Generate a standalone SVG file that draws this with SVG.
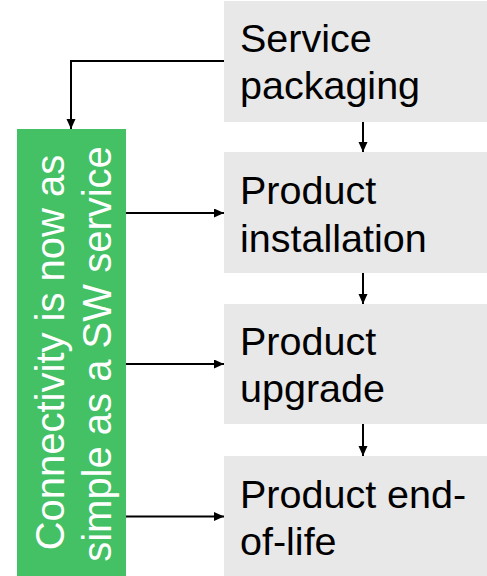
<svg xmlns="http://www.w3.org/2000/svg" width="487" height="576" viewBox="0 0 487 576">
<defs>
<style>
.box{fill:#e8e8e8}
.t{font-family:"Liberation Sans",Arial,sans-serif;font-size:39.5px;fill:#000}
.w{font-family:"Liberation Sans",Arial,sans-serif;font-size:40px;fill:#fff;text-anchor:middle}
.c{fill:none;stroke:#000;stroke-width:2}
</style>
<marker id="ah" markerUnits="userSpaceOnUse" markerWidth="11" markerHeight="10" refX="10" refY="4.5" orient="auto">
<path d="M0,0 L10,4.5 L0,9 z" fill="#000"/>
</marker>
</defs>
<g id="service-packaging">
<rect class="box" x="224" y="1" width="263" height="121"/>
<text class="t" x="240" y="52">Service</text>
<text class="t" x="240" y="99">packaging</text>
</g>
<g id="product-installation">
<rect class="box" x="224" y="152" width="263" height="121"/>
<text class="t" x="240" y="204">Product</text>
<text class="t" x="240" y="251.5">installation</text>
</g>
<g id="product-upgrade">
<rect class="box" x="224" y="304" width="263" height="120"/>
<text class="t" x="240" y="355">Product</text>
<text class="t" x="240" y="402">upgrade</text>
</g>
<g id="product-end-of-life">
<rect class="box" x="224" y="456" width="263" height="120"/>
<text class="t" x="240" y="508">Product end-</text>
<text class="t" x="240" y="555">of-life</text>
</g>
<g id="connectivity">
<rect x="17" y="129" width="109" height="447" fill="#43c164"/>
<text class="w" transform="translate(63.5,352.5) rotate(-90)" x="0" y="0">Connectivity is now as</text>
<text class="w" transform="translate(110.5,354) rotate(-90)" x="0" y="0">simple as a SW service</text>
</g>
<g id="connectors">
<polyline class="c" points="224,61 71,61 71,129" marker-end="url(#ah)"/>
<line class="c" x1="363" y1="122" x2="363" y2="152" marker-end="url(#ah)"/>
<line class="c" x1="363" y1="273" x2="363" y2="304" marker-end="url(#ah)"/>
<line class="c" x1="363" y1="424" x2="363" y2="456" marker-end="url(#ah)"/>
<line class="c" x1="126" y1="213" x2="224" y2="213" marker-end="url(#ah)"/>
<line class="c" x1="126" y1="364" x2="224" y2="364" marker-end="url(#ah)"/>
<line class="c" x1="126" y1="516.5" x2="224" y2="516.5" marker-end="url(#ah)"/>
</g>
</svg>
